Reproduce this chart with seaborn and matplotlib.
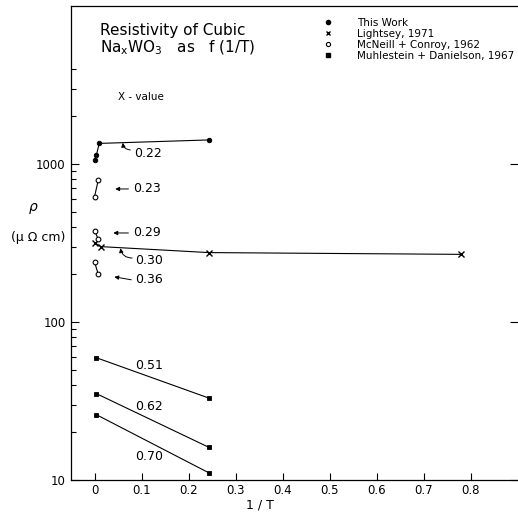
import numpy as np
import matplotlib
matplotlib.use('Agg')
import matplotlib.pyplot as plt
from matplotlib.lines import Line2D
from matplotlib.ticker import NullFormatter
import seaborn as sns

# This Work (x = 0.22)
this_work_x = [0.0, 0.004, 0.01, 0.243]
this_work_y = [1060, 1140, 1350, 1420]

# Lightsey, 1971 (x = 0.30)
lightsey_x = [0.0, 0.013, 0.243, 0.778]
lightsey_y = [318, 300, 275, 268]

# McNeill + Conroy, 1962 (x = 0.23, 0.29, 0.36)
mcneill_x = [0.0, 0.008]
mcneill_023 = [621, 792]
mcneill_029 = [378, 334]
mcneill_036 = [240, 200]

# Muhlestein + Danielson, 1967 (x = 0.51, 0.62, 0.70)
muhl_x = [0.004, 0.243]
muhl_051 = [59.4, 33.0]
muhl_062 = [35.2, 16.1]
muhl_070 = [25.9, 11.1]

x_ticks = [0, 0.1, 0.2, 0.3, 0.4, 0.5, 0.6, 0.7, 0.8]
x_tick_labels = ['0', '0.1', '0.2', '0.3', '0.4', '0.5', '0.6', '0.7', '0.8']
y_ticks = [10, 100, 1000]
y_tick_labels = ['10', '100', '1000']
y_minor = [20, 30, 40, 50, 60, 70, 80, 90,
           200, 300, 400, 500, 600, 700, 800, 900,
           2000, 3000, 4000]

legend_labels = ['This Work', 'Lightsey, 1971', 'McNeill + Conroy, 1962',
                 'Muhlestein + Danielson, 1967']

sns.set_style('ticks', {'axes.edgecolor': 'black', 'xtick.direction': 'in',
                        'ytick.direction': 'in', 'xtick.color': 'black',
                        'ytick.color': 'black', 'text.color': 'black',
                        'axes.labelcolor': 'black'})
plt.rcParams['font.family'] = ['DejaVu Sans']
plt.rcParams['mathtext.default'] = 'regular'

fig = plt.figure(figsize=(5.18, 5.14), dpi=100)
ax = fig.add_axes([71 / 518, 34 / 514, 447 / 518, 474 / 514])

line_kw = dict(ax=ax, color='black', lw=0.8, sort=False)

# filled circles
sns.lineplot(x=this_work_x, y=this_work_y, marker='o', markersize=3.3,
             markerfacecolor='black', mec='black', mew=0.6, **line_kw)
# crosses
sns.lineplot(x=lightsey_x, y=lightsey_y, marker='x', markersize=3.8,
             mec='black', mew=1.0, **line_kw)
# open circles
for ys in [mcneill_023, mcneill_029, mcneill_036]:
    sns.lineplot(x=mcneill_x, y=ys, marker='o', markersize=3.4,
                 markerfacecolor='white', mec='black', mew=0.8, **line_kw)
# squares
for ys in [muhl_051, muhl_062, muhl_070]:
    sns.lineplot(x=muhl_x, y=ys, marker='s', markersize=3.0,
                 markerfacecolor='black', mec='black', mew=0.6, **line_kw)

ax.set_yscale('log')
ax.set_xlim(-0.05, 0.9)
ax.set_ylim(10, 10000)
ax.set_xticks(x_ticks)
ax.set_xticklabels(x_tick_labels, fontsize=8.5, color='black')
ax.set_yticks(y_ticks)
ax.set_yticklabels(y_tick_labels, fontsize=8.5, color='black')
ax.set_yticks(y_minor, minor=True)
ax.yaxis.set_minor_formatter(NullFormatter())
ax.xaxis.set_minor_locator(matplotlib.ticker.NullLocator())

ax.spines['right'].set_visible(False)
for s in ['left', 'bottom', 'top']:
    ax.spines[s].set_linewidth(0.9)
ax.tick_params(axis='both', which='major', direction='in', length=6, width=0.8, pad=4)
ax.tick_params(axis='y', which='minor', direction='in', length=3.5, width=0.8,
               right=False)
ax.tick_params(axis='y', which='major', right=True, left=True)
ax.tick_params(axis='x', which='major', length=5, pad=3)

ax.set_xlabel('1 / T', fontsize=9, color='black')
ax.xaxis.set_label_coords(0.423, -0.038)
ax.set_ylabel('')

# y axis label
fig.text(33 / 518, 1 - 208 / 514, r'$\it{\rho}$', fontsize=10, ha='center', va='center')
fig.text(38 / 518, 1 - 237 / 514, '(μ Ω cm)', fontsize=9, ha='center', va='center')

# title block
fig.text(100 / 518, 1 - 31 / 514, 'Resistivity of Cubic', fontsize=11,
         ha='left', va='center')
fig.text(100 / 518, 1 - 48 / 514, r'Na$_{x}$WO$_{3}$   as   f (1/T)', fontsize=11,
         ha='left', va='center')
fig.text(118 / 518, 1 - 97 / 514, 'X - value', fontsize=7.5, ha='left', va='center')

# x-value labels with arrows
labels = ['0.22', '0.23', '0.29', '0.30', '0.36', '0.51', '0.62', '0.70']
label_x = [0.084, 0.082, 0.082, 0.086, 0.086, 0.086, 0.086, 0.086]
label_y = [1157, 695, 366, 244, 185, 52.7, 29.1, 14.0]
for t, lx, ly in zip(labels, label_x, label_y):
    ax.text(lx, ly, t, fontsize=9, ha='left', va='center')

arrow_from = [(0.076, 1228), (0.072, 695), (0.072, 366), (0.080, 254), (0.078, 185)]
arrow_to = [(0.060, 1362), (0.044, 695), (0.040, 366), (0.055, 293), (0.042, 193)]
arrow_rad = [-0.4, 0, 0, -0.4, 0]
for a, b, r in zip(arrow_from, arrow_to, arrow_rad):
    ax.annotate('', xy=b, xytext=a,
                arrowprops=dict(arrowstyle='-|>', lw=0.7, color='black',
                                mutation_scale=6, shrinkA=0, shrinkB=0,
                                connectionstyle='arc3,rad=%s' % r))

# legend (markers only)
handles = [
    Line2D([], [], ls='', marker='o', ms=3.0, mfc='black', mec='black'),
    Line2D([], [], ls='', marker='x', ms=3.5, mec='black', mew=1.0),
    Line2D([], [], ls='', marker='o', ms=3.0, mfc='white', mec='black', mew=0.8),
    Line2D([], [], ls='', marker='s', ms=3.0, mfc='black', mec='black'),
]
ax.legend(handles, legend_labels, loc='upper left', frameon=False,
          bbox_to_anchor=(322.8 / 518, 1 - 18 / 514), bbox_transform=fig.transFigure,
          fontsize=7.5, handlelength=1.0, handletextpad=2.29, labelspacing=0.1,
          borderpad=0, borderaxespad=0)

fig.savefig('out.png', dpi=100)
